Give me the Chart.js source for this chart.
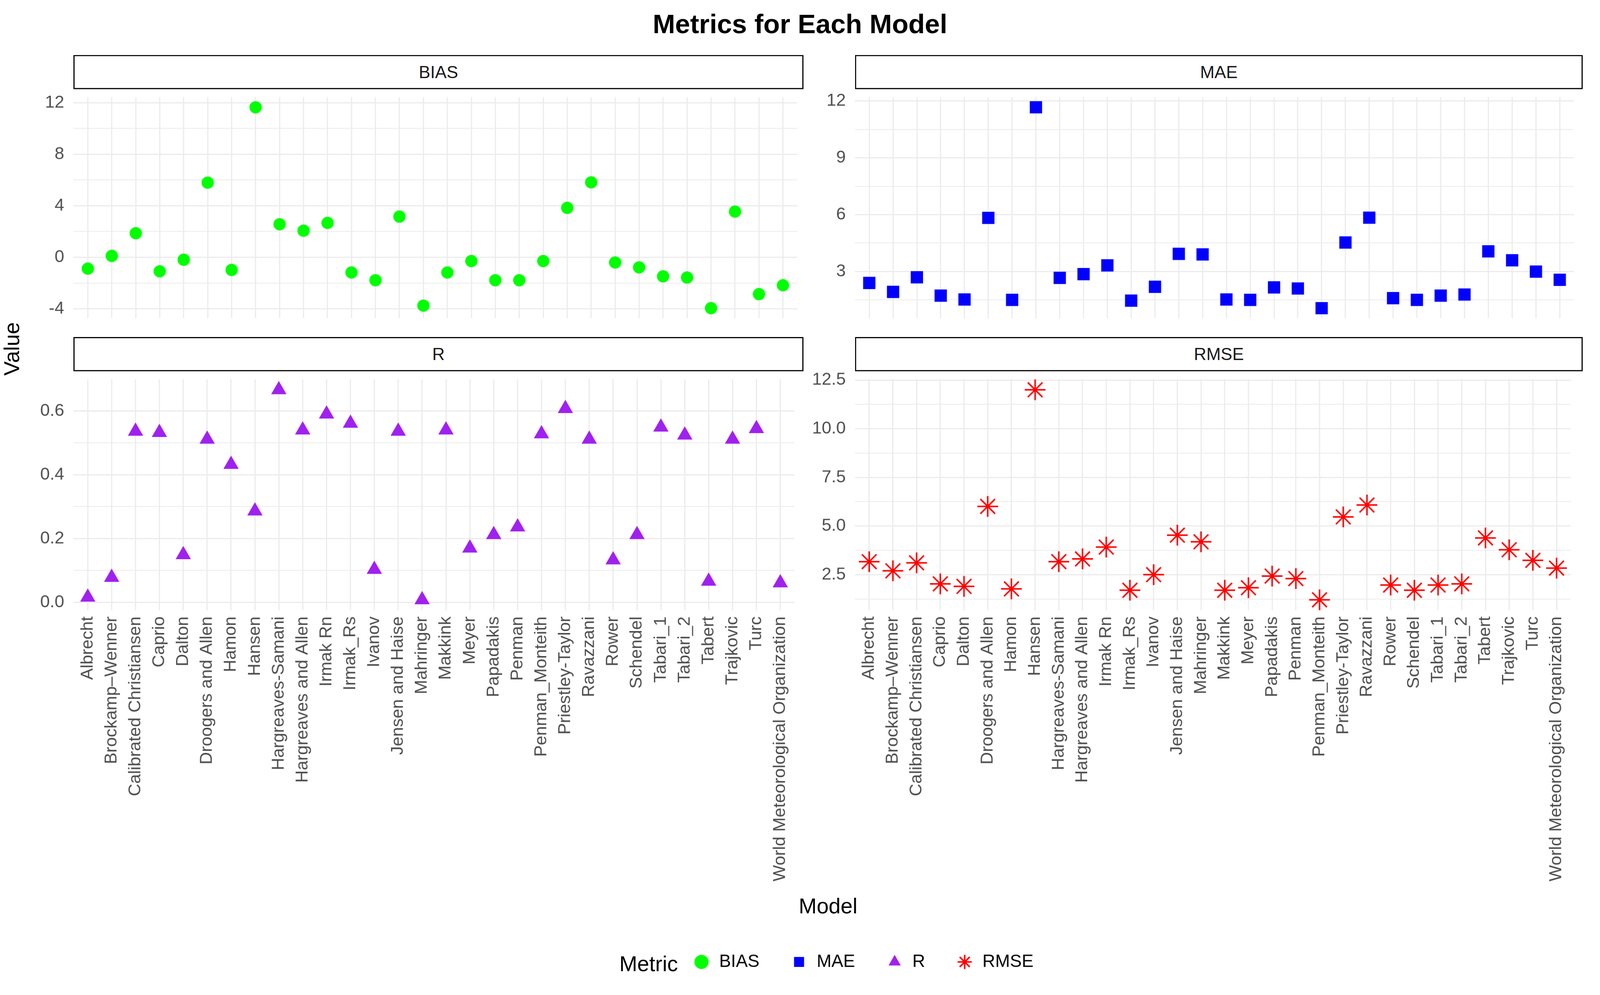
<!DOCTYPE html>
<html>
<head>
<meta charset="utf-8">
<title>Metrics for Each Model</title>
<script src="https://cdn.jsdelivr.net/npm/chart.js@4.4.1/dist/chart.umd.min.js"></script>
<style>
  html, body { margin: 0; padding: 0; background: #fff; overflow: hidden; width: 100%; height: 100%; }
  #page { position: absolute; left: 0; top: 0; width: 4162px; height: 2548px; transform-origin: 0 0;
          font-family: "Liberation Sans", Arial, sans-serif; }
  .box { position: absolute; }
  .strip { position: absolute; box-sizing: border-box; border: 3px solid #000; background: #fff;
           display: flex; align-items: center; justify-content: center; font-size: 45px; color: #1A1A1A; }
  .txt { position: absolute; white-space: nowrap; color: #000; }
</style>
</head>
<body>
<div id="page">
<div class="txt" style="left:0;width:4162px;top:22px;text-align:center;font-size:70px;font-weight:bold;">Metrics for Each Model</div>

<div class="box" style="left:71px;top:202px;width:2019px;height:677px;"><canvas id="biasChart"></canvas></div>
<div class="box" style="left:2104px;top:202px;width:2013px;height:677px;"><canvas id="maeChart"></canvas></div>
<div class="box" style="left:71px;top:936px;width:2019px;height:1392px;"><canvas id="rChart"></canvas></div>
<div class="box" style="left:2104px;top:936px;width:2013px;height:1392px;"><canvas id="rmseChart"></canvas></div>

<div class="strip" style="left:191px;top:143px;width:1899px;height:89px;">BIAS</div>
<div class="strip" style="left:2224px;top:143px;width:1893px;height:89px;">MAE</div>
<div class="strip" style="left:191px;top:877px;width:1899px;height:89px;">R</div>
<div class="strip" style="left:2224px;top:877px;width:1893px;height:89px;">RMSE</div>

<div class="txt" style="left:30px;top:908px;font-size:56px;transform:translate(-50%,-50%) rotate(-90deg);transform-origin:center;">Value</div>
<div class="txt" style="left:2154px;top:2357px;font-size:56px;transform:translate(-50%,-50%);">Model</div>
<div class="txt" style="left:1611px;top:2508px;font-size:56px;transform:translateY(-50%);">Metric</div>
<div class="box" style="left:1545px;top:2400px;width:1400px;height:148px;"><canvas id="legendChart"></canvas></div>
</div>

<script>
// Data
const models = ['Albrecht', 'Brockamp\u2013Wenner', 'Calibrated Christiansen', 'Caprio', 'Dalton',
  'Droogers and Allen', 'Hamon', 'Hansen', 'Hargreaves-Samani', 'Hargreaves and Allen',
  'Irmak Rn', 'Irmak_Rs', 'Ivanov', 'Jensen and Haise', 'Mahringer', 'Makkink', 'Meyer',
  'Papadakis', 'Penman', 'Penman_Monteith', 'Priestley-Taylor', 'Ravazzani', 'Rower',
  'Schendel', 'Tabari_1', 'Tabari_2', 'Tabert', 'Trajkovic', 'Turc',
  'World Meteorological Organization'];

const biasValues = [-0.88, 0.11, 1.87, -1.09, -0.19, 5.80, -0.98, 11.65, 2.57, 2.07,
  2.67, -1.18, -1.78, 3.16, -3.75, -1.18, -0.29, -1.78, -1.78, -0.29,
  3.84, 5.82, -0.40, -0.78, -1.48, -1.57, -3.95, 3.55, -2.86, -2.17];

const maeValues = [2.39, 1.92, 2.69, 1.72, 1.52, 5.83, 1.50, 11.67, 2.66, 2.86,
  3.32, 1.46, 2.19, 3.93, 3.90, 1.52, 1.50, 2.16, 2.10, 1.06,
  4.53, 5.84, 1.59, 1.50, 1.72, 1.78, 4.06, 3.59, 2.99, 2.56];

const rValues = [0.016, 0.078, 0.536, 0.532, 0.149, 0.511, 0.432, 0.286, 0.666, 0.540,
  0.590, 0.561, 0.103, 0.536, 0.008, 0.540, 0.170, 0.212, 0.236, 0.528,
  0.607, 0.511, 0.133, 0.212, 0.549, 0.524, 0.066, 0.511, 0.544, 0.061];

const rmseValues = [3.17, 2.70, 3.11, 2.03, 1.90, 6.01, 1.77, 12.00, 3.17, 3.31,
  3.92, 1.70, 2.50, 4.53, 4.19, 1.70, 1.83, 2.43, 2.30, 1.21,
  5.47, 6.08, 1.97, 1.70, 1.97, 2.03, 4.39, 3.78, 3.24, 2.84];

const metricNames = ['BIAS', 'MAE', 'R', 'RMSE'];
const metricColors = ['#00FF00', '#0000FF', '#A020F0', '#FF0000'];
const metricShapes = ['circle', 'rect', 'triangle', 'star'];
const metricRadius = [16, 22.6, 23, 27];

// fit the 4162x2548 layout into the viewport we actually get (same factor both ways)
const page = document.getElementById('page');
const fit = Math.min(window.innerWidth / 4162, window.innerHeight / 2548);
if (Math.abs(fit - 1) > 0.001) {
  page.style.transform = 'scale(' + fit + ')';
}

const FONT = "'Liberation Sans', Arial, sans-serif";
Chart.defaults.font.family = FONT;
Chart.defaults.animation = false;

function near(v, m) {
  const q = v / m;
  return Math.abs(q - Math.round(q)) < 1e-6;
}

// one facet panel, free y scale with ggplot-like 5% expansion
function makePanel(id, k, values, step, major, fmt, showX) {
  const lo = Math.min(...values), hi = Math.max(...values);
  const pad = (hi - lo) * 0.05;
  const ctx = document.getElementById(id).getContext('2d');
  return new Chart(ctx, {
    type: 'scatter',
    data: {
      datasets: [{
        label: metricNames[k],
        data: values.map((v, i) => ({ x: i, y: v })),
        pointStyle: metricShapes[k],
        pointRadius: metricRadius[k],
        pointHoverRadius: metricRadius[k],
        backgroundColor: metricColors[k],
        borderColor: metricColors[k],
        borderWidth: k === 3 ? 4 : 0,
        clip: false
      }]
    },
    options: {
      responsive: true,
      maintainAspectRatio: false,
      layout: { padding: { top: 30, bottom: showX ? 0 : 30, left: 0, right: 0 } },
      plugins: { legend: { display: false }, tooltip: { enabled: false } },
      scales: {
        x: {
          type: 'linear',
          min: -0.6,
          max: models.length - 0.4,
          border: { display: false },
          grid: { color: '#EBEBEB', lineWidth: 3, drawTicks: false },
          ticks: {
            display: showX, stepSize: 1, autoSkip: false, maxTicksLimit: 100, includeBounds: false,
            minRotation: 90, maxRotation: 90, padding: 16, color: '#4D4D4D',
            font: { size: 45 },
            callback: v => models[v]
          },
          afterFit: s => { s.height = showX ? 740 : 0; s.paddingLeft = 0; s.paddingRight = 0; }
        },
        y: {
          min: lo - pad,
          max: hi + pad,
          border: { display: false },
          grid: {
            color: '#EBEBEB', drawTicks: false,
            lineWidth: c => near(c.tick.value, major) ? 3 : 2
          },
          ticks: {
            stepSize: step, autoSkip: false, maxTicksLimit: 40, includeBounds: false,
            padding: 24, color: '#4D4D4D', font: { size: 45 },
            callback: v => near(v, major) ? fmt(v) : ''
          },
          afterFit: s => { s.width = 120; }
        }
      }
    }
  });
}

makePanel('biasChart', 0, biasValues, 2, 4, v => String(v), false);
makePanel('maeChart', 1, maeValues, 1.5, 3, v => String(v), false);
makePanel('rChart', 2, rValues, 0.1, 0.2, v => v.toFixed(1), true);
makePanel('rmseChart', 3, rmseValues, 1.25, 2.5, v => v.toFixed(1), true);

// legend: one entry per metric, drawn by Chart.js in its own canvas
new Chart(document.getElementById('legendChart').getContext('2d'), {
  type: 'scatter',
  data: {
    datasets: metricNames.map((name, k) => ({
      label: name,
      data: [{ x: 0, y: 0 }],
      pointStyle: metricShapes[k],
      pointRadius: 0,
      backgroundColor: metricColors[k],
      borderColor: metricColors[k],
      borderWidth: k === 3 ? 4 : 0
    }))
  },
  options: {
    responsive: true,
    maintainAspectRatio: false,
    layout: { padding: 0 },
    scales: { x: { display: false }, y: { display: false } },
    plugins: {
      tooltip: { enabled: false },
      legend: {
        display: true,
        position: 'top',
        maxHeight: 400,
        labels: {
          usePointStyle: true, boxWidth: 46, boxHeight: 26, padding: 80,
          color: '#000', font: { size: 46 }
        }
      }
    }
  }
});
</script>
</body>
</html>
